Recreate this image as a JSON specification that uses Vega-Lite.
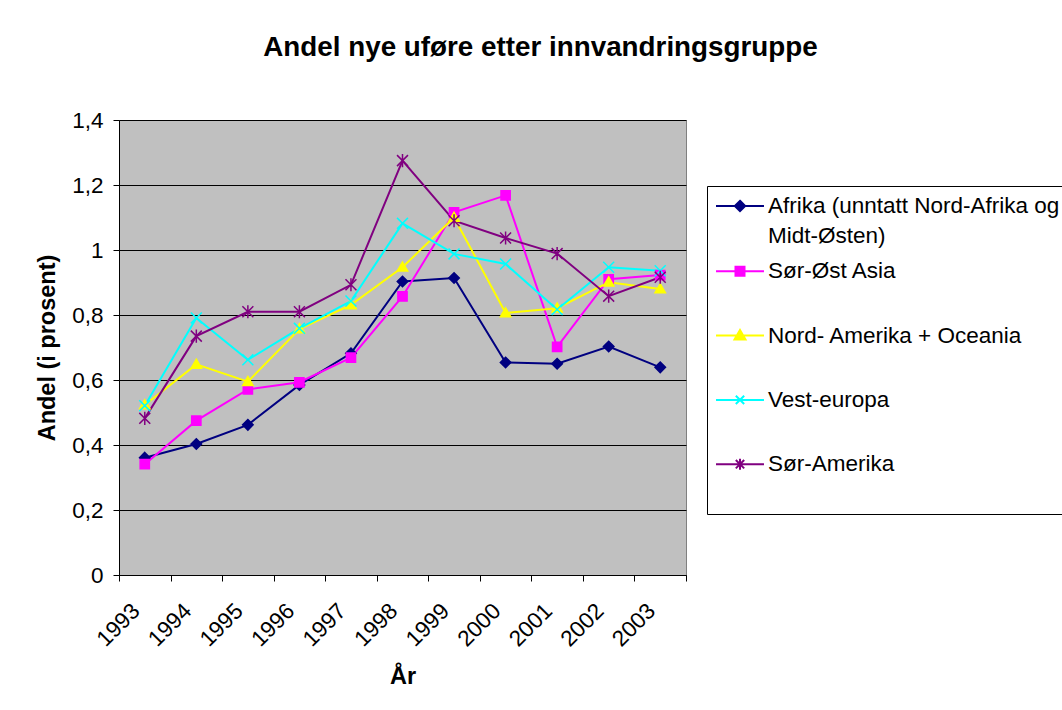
{
  "$schema": "https://vega.github.io/schema/vega-lite/v6.json",
  "width": 567,
  "height": 455,
  "autosize": {"type": "none"},
  "padding": {"left": 119, "top": 120, "right": 376, "bottom": 135},
  "background": "white",
  "title": {
    "text": "Andel nye uføre etter innvandringsgruppe",
    "font": "Liberation Sans",
    "fontSize": 27.8,
    "fontWeight": "bold",
    "color": "black",
    "anchor": "middle",
    "dx": 138,
    "offset": 47
  },
  "config": {
    "font": "Liberation Sans",
    "view": {"fill": "#C0C0C0", "stroke": "#808080", "strokeWidth": 1},
    "axis": {
      "labelFont": "Liberation Sans",
      "labelFontSize": 22.5,
      "labelColor": "black",
      "titleFont": "Liberation Sans",
      "titleFontSize": 23.5,
      "titleFontWeight": "bold",
      "titleColor": "black",
      "domainColor": "black",
      "tickColor": "black",
      "tickSize": 6
    },
    "point": {"filled": true, "opacity": 1, "strokeWidth": 1.5, "size": 90}
  },
  "data": {
    "values": [
      {"serie": "Afrika (unntatt Nord-Afrika og Midt-Østen)", "year": "1993", "value": 0.361},
      {"serie": "Afrika (unntatt Nord-Afrika og Midt-Østen)", "year": "1994", "value": 0.403},
      {"serie": "Afrika (unntatt Nord-Afrika og Midt-Østen)", "year": "1995", "value": 0.462},
      {"serie": "Afrika (unntatt Nord-Afrika og Midt-Østen)", "year": "1996", "value": 0.585},
      {"serie": "Afrika (unntatt Nord-Afrika og Midt-Østen)", "year": "1997", "value": 0.682},
      {"serie": "Afrika (unntatt Nord-Afrika og Midt-Østen)", "year": "1998", "value": 0.903},
      {"serie": "Afrika (unntatt Nord-Afrika og Midt-Østen)", "year": "1999", "value": 0.914},
      {"serie": "Afrika (unntatt Nord-Afrika og Midt-Østen)", "year": "2000", "value": 0.654},
      {"serie": "Afrika (unntatt Nord-Afrika og Midt-Østen)", "year": "2001", "value": 0.650},
      {"serie": "Afrika (unntatt Nord-Afrika og Midt-Østen)", "year": "2002", "value": 0.703},
      {"serie": "Afrika (unntatt Nord-Afrika og Midt-Østen)", "year": "2003", "value": 0.639},
      {"serie": "Sør-Øst Asia", "year": "1993", "value": 0.341},
      {"serie": "Sør-Øst Asia", "year": "1994", "value": 0.475},
      {"serie": "Sør-Øst Asia", "year": "1995", "value": 0.571},
      {"serie": "Sør-Øst Asia", "year": "1996", "value": 0.593},
      {"serie": "Sør-Øst Asia", "year": "1997", "value": 0.669},
      {"serie": "Sør-Øst Asia", "year": "1998", "value": 0.857},
      {"serie": "Sør-Øst Asia", "year": "1999", "value": 1.116},
      {"serie": "Sør-Øst Asia", "year": "2000", "value": 1.168},
      {"serie": "Sør-Øst Asia", "year": "2001", "value": 0.702},
      {"serie": "Sør-Øst Asia", "year": "2002", "value": 0.910},
      {"serie": "Sør-Øst Asia", "year": "2003", "value": 0.923},
      {"serie": "Nord- Amerika + Oceania", "year": "1993", "value": 0.523},
      {"serie": "Nord- Amerika + Oceania", "year": "1994", "value": 0.648},
      {"serie": "Nord- Amerika + Oceania", "year": "1995", "value": 0.595},
      {"serie": "Nord- Amerika + Oceania", "year": "1996", "value": 0.757},
      {"serie": "Nord- Amerika + Oceania", "year": "1997", "value": 0.831},
      {"serie": "Nord- Amerika + Oceania", "year": "1998", "value": 0.947},
      {"serie": "Nord- Amerika + Oceania", "year": "1999", "value": 1.100},
      {"serie": "Nord- Amerika + Oceania", "year": "2000", "value": 0.806},
      {"serie": "Nord- Amerika + Oceania", "year": "2001", "value": 0.821},
      {"serie": "Nord- Amerika + Oceania", "year": "2002", "value": 0.901},
      {"serie": "Nord- Amerika + Oceania", "year": "2003", "value": 0.880},
      {"serie": "Vest-europa", "year": "1993", "value": 0.521},
      {"serie": "Vest-europa", "year": "1994", "value": 0.791},
      {"serie": "Vest-europa", "year": "1995", "value": 0.662},
      {"serie": "Vest-europa", "year": "1996", "value": 0.759},
      {"serie": "Vest-europa", "year": "1997", "value": 0.843},
      {"serie": "Vest-europa", "year": "1998", "value": 1.082},
      {"serie": "Vest-europa", "year": "1999", "value": 0.988},
      {"serie": "Vest-europa", "year": "2000", "value": 0.957},
      {"serie": "Vest-europa", "year": "2001", "value": 0.817},
      {"serie": "Vest-europa", "year": "2002", "value": 0.947},
      {"serie": "Vest-europa", "year": "2003", "value": 0.936},
      {"serie": "Sør-Amerika", "year": "1993", "value": 0.482},
      {"serie": "Sør-Amerika", "year": "1994", "value": 0.735},
      {"serie": "Sør-Amerika", "year": "1995", "value": 0.810},
      {"serie": "Sør-Amerika", "year": "1996", "value": 0.810},
      {"serie": "Sør-Amerika", "year": "1997", "value": 0.893},
      {"serie": "Sør-Amerika", "year": "1998", "value": 1.275},
      {"serie": "Sør-Amerika", "year": "1999", "value": 1.090},
      {"serie": "Sør-Amerika", "year": "2000", "value": 1.037},
      {"serie": "Sør-Amerika", "year": "2001", "value": 0.989},
      {"serie": "Sør-Amerika", "year": "2002", "value": 0.858},
      {"serie": "Sør-Amerika", "year": "2003", "value": 0.916}
    ]
  },
  "encoding": {
    "x": {
      "field": "year",
      "type": "ordinal",
      "bandPosition": 0.5,
      "scale": {"type": "band", "paddingInner": 0, "paddingOuter": 0},
      "axis": {
        "title": "År",
        "labelAngle": -45,
        "labelAlign": "right",
        "labelBaseline": "middle",
        "labelPadding": 26,
        "labelOffset": -9,
        "tickBand": "extent",
        "titlePadding": 14
      }
    },
    "y": {
      "field": "value",
      "type": "quantitative",
      "scale": {"domain": [0, 1.4], "nice": false, "zero": true},
      "axis": {
        "title": "Andel (i prosent)",
        "values": [0, 0.2, 0.4, 0.6, 0.8, 1, 1.2, 1.4],
        "labelExpr": "replace(format(datum.value, '~g'), '.', ',')",
        "labelPadding": 10,
        "grid": true,
        "gridColor": "black",
        "gridOpacity": 1,
        "gridWidth": 1,
        "titlePadding": 12
      }
    }
  },
  "layer": [
    {
      "mark": {"type": "line", "strokeWidth": 2},
      "encoding": {
        "color": {
          "field": "serie",
          "type": "nominal",
          "scale": {
            "domain": ["Afrika (unntatt Nord-Afrika og Midt-Østen)", "Sør-Øst Asia", "Nord- Amerika + Oceania", "Vest-europa", "Sør-Amerika"],
            "range": ["#000080", "#FF00FF", "#FFFF00", "#00FFFF", "#800080"]
          },
          "legend": {
            "title": null,
            "orient": "none",
            "legendX": 588,
            "legendY": 66,
            "padding": 8,
            "fillColor": "white",
            "strokeColor": "black",
            "labelFont": "Liberation Sans",
            "labelFontSize": 22.5,
            "labelColor": "black",
            "labelLimit": 800,
            "labelOffset": 16,
            "symbolOffset": 13,
            "symbolSize": 484,
            "symbolOpacity": 1,
            "symbolStrokeWidth": 2,
            "rowPadding": 11.3,
            "labelExpr": "datum.value == 'Afrika (unntatt Nord-Afrika og Midt-Østen)' ? ['Afrika (unntatt Nord-Afrika og', 'Midt-Østen)'] : datum.label",
            "encode": {
              "labels": {"update": {"lineHeight": {"value": 30}}},
              "symbols": {
                "update": {
                  "shape": {"signal": "datum.value == 'Afrika (unntatt Nord-Afrika og Midt-Østen)' ? 'M-2.18,0H2.18M0,-0.47L0.47,0L0,0.47L-0.47,0ZM0,3.36L0,3.36' : datum.value == 'Sør-Øst Asia' ? 'M-2.18,0H2.18M-0.41,-0.41H0.41V0.41H-0.41ZM0,3.36L0,3.36' : datum.value == 'Nord- Amerika + Oceania' ? 'M-2.18,0H2.18M0,-0.5L0.5,0.36L-0.5,0.36ZM0,3.36L0,3.36' : datum.value == 'Vest-europa' ? 'M-2.18,0H2.18M-0.38,-0.38L0.38,0.38M-0.38,0.38L0.38,-0.38M0,3.36L0,3.36' : 'M-2.18,0H2.18M-0.38,-0.38L0.38,0.38M-0.38,0.38L0.38,-0.38M0,-0.5L0,0.5M0,3.36L0,3.36'"},
                  "fill": {"scale": "color", "field": "value"},
                  "stroke": {"scale": "color", "field": "value"},
                  "strokeWidth": {"value": 2},
                  "opacity": {"value": 1}
                }
              }
            }
          }
        }
      }
    },
    {
      "transform": [{"filter": {"field": "serie", "equal": "Afrika (unntatt Nord-Afrika og Midt-Østen)"}}],
      "mark": {"type": "point", "shape": "M0,-1L1,0L0,1L-1,0Z", "fill": "#000080", "stroke": "#000080", "size": 110}
    },
    {
      "transform": [{"filter": {"field": "serie", "equal": "Sør-Øst Asia"}}],
      "mark": {"type": "point", "shape": "M-1,-1H1V1H-1Z", "fill": "#FF00FF", "stroke": "#FF00FF", "size": 85}
    },
    {
      "transform": [{"filter": {"field": "serie", "equal": "Nord- Amerika + Oceania"}}],
      "mark": {"type": "point", "shape": "M0,-1.1L1.1,0.8L-1.1,0.8Z", "fill": "#FFFF00", "stroke": "#FFFF00", "size": 90}
    },
    {
      "transform": [{"filter": {"field": "serie", "equal": "Vest-europa"}}],
      "mark": {"type": "point", "shape": "M-1,-1L1,1M-1,1L1,-1", "fill": "#00FFFF", "stroke": "#00FFFF", "size": 120}
    },
    {
      "transform": [{"filter": {"field": "serie", "equal": "Sør-Amerika"}}],
      "mark": {"type": "point", "shape": "M-1,-1L1,1M-1,1L1,-1M0,-1.2L0,1.2", "fill": "#800080", "stroke": "#800080", "size": 120}
    }
  ]
}
